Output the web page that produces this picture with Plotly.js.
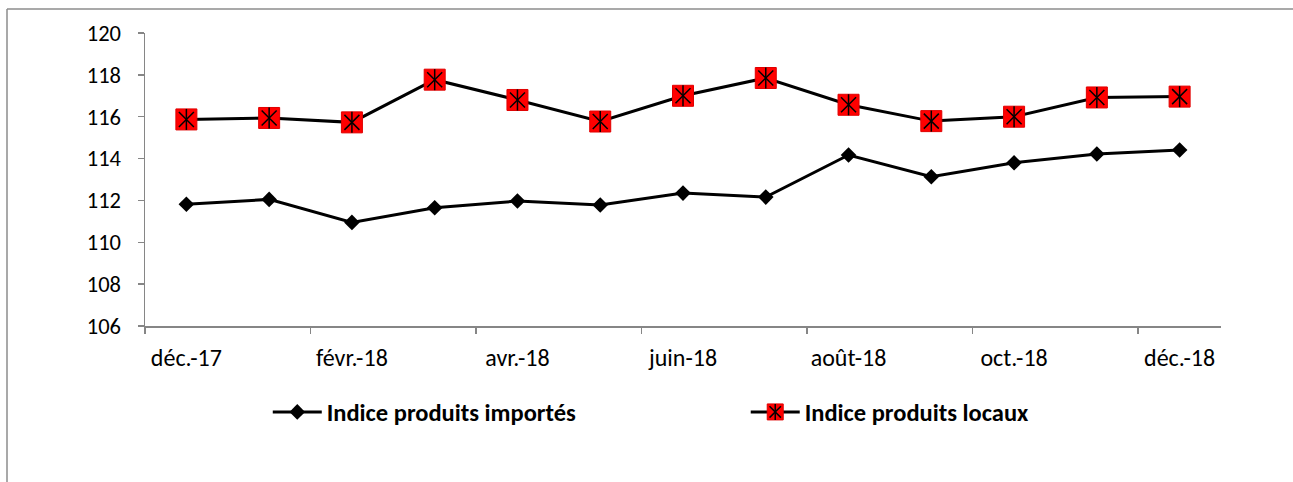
<!DOCTYPE html>
<html>
<head>
<meta charset="utf-8">
<script src="https://cdn.plot.ly/plotly-3.0.1.min.js"></script>
<style>
html,body{margin:0;padding:0;background:#fff;overflow:hidden;}
#chart{width:1293px;height:482px;}
</style>
</head>
<body>
<div id="chart"></div>
<script>
const months = ["déc.-17","janv.-18","févr.-18","mars-18","avr.-18","mai-18","juin-18","juil.-18","août-18","sept.-18","oct.-18","nov.-18","déc.-18"];
const importes = [111.82, 112.05, 110.95, 111.65, 111.97, 111.78, 112.35, 112.16, 114.17, 113.13, 113.8, 114.22, 114.41];
const locaux   = [115.87, 115.94, 115.73, 117.77, 116.8, 115.77, 117.0, 117.85, 116.57, 115.79, 116.0, 116.92, 116.96];
const nameImp = "Indice produits importés";
const nameLoc = "Indice produits locaux";

const FONT = 'Carlito, "Liberation Sans", sans-serif';
const L1X = 0.1141, L2X = 0.5583, LY = -0.2935;

const traces = [
  {
    x: months, y: importes, name: nameImp, type: "scatter", mode: "lines+markers",
    line: {color: "#000000", width: 3},
    marker: {symbol: "diamond", size: 12, color: "#000000"},
    legend: "legend"
  },
  {
    x: months, y: locaux, name: nameLoc, type: "scatter", mode: "lines+markers", showlegend: false,
    line: {color: "#000000", width: 3},
    marker: {symbol: "square", size: 21, color: "#ff0000", line: {color: "#e00000", width: 1}}
  },
  {
    x: months, y: locaux, showlegend: false, type: "scatter", mode: "markers", hoverinfo: "skip",
    marker: {symbol: "x-thin-open", size: 15, color: "#000000", line: {color: "#000000", width: 1.5}}
  },
  {
    x: months, y: locaux, showlegend: false, type: "scatter", mode: "markers", hoverinfo: "skip",
    marker: {symbol: "line-ns-open", size: 15, color: "#000000", line: {color: "#000000", width: 1.5}}
  },
  // legend-only entries for the local index (square with asterisk)
  {
    x: [months[0]], y: [null], name: nameLoc, type: "scatter", mode: "lines+markers", legend: "legend2",
    line: {color: "#000000", width: 3},
    marker: {symbol: "square", size: 16, color: "#ff0000", line: {color: "#e00000", width: 1}}
  },
  {
    x: [months[0]], y: [null], name: nameLoc, type: "scatter", mode: "markers", legend: "legend3",
    marker: {symbol: "x-thin-open", size: 11.4, color: "#000000", line: {color: "#000000", width: 1.5}}
  },
  {
    x: [months[0]], y: [null], name: nameLoc, type: "scatter", mode: "markers", legend: "legend4",
    marker: {symbol: "line-ns-open", size: 11.4, color: "#000000", line: {color: "#000000", width: 1.5}}
  }
];

function legendCfg(x, visibleText) {
  return {
    orientation: "h", x: x, xanchor: "left", y: LY, yanchor: "middle",
    font: {family: FONT, size: 24.5, color: visibleText ? "#000000" : "rgba(0,0,0,0)", weight: "bold"},
    itemwidth: 49, bgcolor: "rgba(0,0,0,0)", borderwidth: 0
  };
}

const layout = {
  width: 1293, height: 482,
  margin: {l: 145, r: 72, t: 33, b: 156},
  paper_bgcolor: "#ffffff", plot_bgcolor: "#ffffff",
  font: {family: FONT, size: 22, color: "#000000"},
  showlegend: true,
  legend: legendCfg(L1X, true),
  legend2: legendCfg(L2X, true),
  legend3: legendCfg(L2X, false),
  legend4: legendCfg(L2X, false),
  xaxis: {
    type: "category", range: [-0.5, 12.5], dtick: 2, tickson: "boundaries",
    showgrid: false, zeroline: false, showline: true, linecolor: "#868686", linewidth: 1.5,
    ticks: "outside", ticklen: 6, tickcolor: "#868686", tickwidth: 1.5, ticklabelstandoff: 10,
    tickfont: {family: FONT, size: 24, color: "#000000"}, fixedrange: true
  },
  yaxis: {
    range: [106, 120], dtick: 2, tick0: 106,
    showgrid: false, zeroline: false, showline: true, linecolor: "#868686", linewidth: 1.5,
    ticks: "outside", ticklen: 6, tickcolor: "#868686", tickwidth: 1.5, ticklabelstandoff: 12,
    tickfont: {family: FONT, size: 22.5, color: "#000000"}, fixedrange: true
  },
  shapes: [
    {type: "line", xref: "paper", yref: "paper",
     x0: (7 - 145) / 1076, x1: (7 - 145) / 1076,
     y0: (326 - 490) / 293, y1: (326 - 9) / 293,
     line: {color: "#8c8c8c", width: 1.5}, layer: "below"},
    {type: "line", xref: "paper", yref: "paper",
     x0: (7 - 145) / 1076, x1: (1293 - 145) / 1076,
     y0: (326 - 9) / 293, y1: (326 - 9) / 293,
     line: {color: "#8c8c8c", width: 1.5}, layer: "below"}
  ]
};

Plotly.newPlot("chart", traces, layout, {displayModeBar: false, staticPlot: true});
</script>
</body>
</html>
